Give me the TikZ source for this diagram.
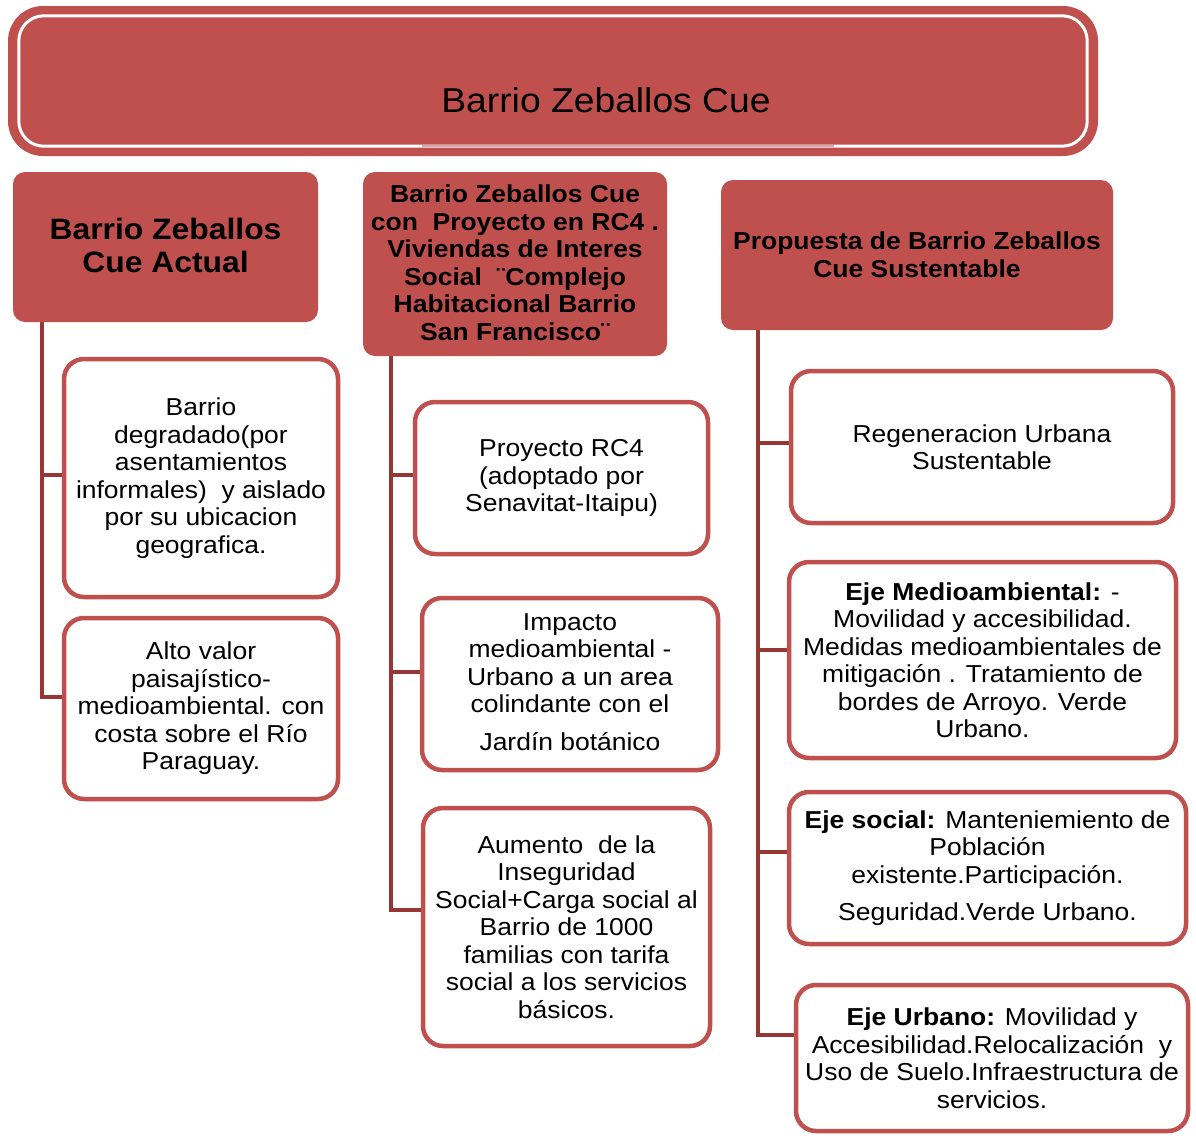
\documentclass[tikz,border=0pt]{standalone}
\usepackage{fontspec}
\setmainfont{Liberation Sans}[FakeStretch=1.08]
\usetikzlibrary{backgrounds}
\definecolor{hdr}{RGB}{192,80,77}
\definecolor{connc}{RGB}{150,55,53}
\definecolor{seam}{RGB}{210,170,170}
\begin{document}
\begin{tikzpicture}[x=1pt,y=-1pt,
  hdrbox/.style={fill=hdr, draw=none, rounded corners=12pt, align=center,
    font=\bfseries\fontsize{24.5}{27.5}\selectfont, inner sep=0pt},
  childbox/.style={draw=hdr, line width=4.5pt, fill=white, rounded corners=20pt,
    align=center, font=\fontsize{24.5}{27.5}\selectfont, inner sep=0pt},
  connline/.style={draw=connc, line width=4.5pt}]
\useasboundingbox (0,0) rectangle (1196,1135);

% banner
\node[fill=hdr, rounded corners=35pt, minimum width=1090pt, minimum height=150pt, inner sep=0pt] (banner) at (553,81) {};
\draw[white, line width=3pt, rounded corners=25pt]
  ([shift={(11,10)}]banner.north west) rectangle ([shift={(-11,-10)}]banner.south east);
\draw[seam, line width=2pt] ([shift={(414,-10)}]banner.south west) -- ([shift={(826,-10)}]banner.south west);
\node[font=\fontsize{34.5}{40}\selectfont, inner sep=0pt] (title) at (606,100) {Barrio Zeballos Cue};

% headers
\node[hdrbox, minimum width=305pt, minimum height=150pt] (h1) at (165.5,247) {};
\node[font=\bfseries\fontsize{29.5}{33}\selectfont, align=center, inner sep=0pt] (h1t) at (165.5,245.5) {Barrio Zeballos\\Cue Actual};
\node[hdrbox, minimum width=304pt, minimum height=184pt] (h2) at (515,264) {};
\node[font=\bfseries\fontsize{24.5}{27.5}\selectfont, align=center, inner sep=0pt] (h2t) at (515,262.5) {Barrio Zeballos Cue\\con\ \ Proyecto en RC4 .\\Viviendas de Interes\\Social\ \ ¨Complejo\\Habitacional Barrio\\San Francisco¨};
\node[hdrbox, minimum width=392pt, minimum height=150pt] (h3) at (917,255) {};
\node[font=\bfseries\fontsize{24.5}{27.5}\selectfont, align=center, inner sep=0pt] (h3t) at (917,254.5) {Propuesta de Barrio Zeballos\\Cue Sustentable};

% column 1
\node[childbox, minimum width=274pt, minimum height=238pt] (c1a) at (201,478) {};
\node[font=\fontsize{24.5}{27.5}\selectfont, align=center, inner sep=0pt] at (c1a) {Barrio\\degradado(por\\asentamientos\\informales)\ \ y aislado\\por su ubicacion\\geografica.};
\node[childbox, minimum width=274pt, minimum height=181pt] (c1b) at (201,708.5) {};
\node[font=\fontsize{24.5}{27.5}\selectfont, align=center, inner sep=0pt] at (c1b) {Alto valor\\paisajístico-\\medioambiental. con\\costa sobre el Río\\Paraguay.};

% column 2
\node[childbox, minimum width=293pt, minimum height=152pt] (c2a) at (561.5,478) {};
\node[font=\fontsize{24.5}{27.5}\selectfont, align=center, inner sep=0pt] at (c2a) {Proyecto RC4\\(adoptado por\\Senavitat-Itaipu)};
\node[childbox, minimum width=296pt, minimum height=172pt] (c2b) at (570,684) {};
\node[font=\fontsize{24.5}{27.5}\selectfont, align=center, inner sep=0pt] at ([yshift=2pt]c2b.center) {Impacto\\medioambiental -\\Urbano a un area\\colindante con el\\[10pt]Jardín botánico};
\node[childbox, minimum width=287pt, minimum height=238pt] (c2c) at (566.5,927) {};
\node[font=\fontsize{24.5}{27.5}\selectfont, align=center, inner sep=0pt] at (c2c) {Aumento\ \ de la\\Inseguridad\\Social+Carga social al\\Barrio de 1000\\familias con tarifa\\social a los servicios\\básicos.};

% column 3
\node[childbox, minimum width=382pt, minimum height=152pt] (c3a) at (982,447) {};
\node[font=\fontsize{24.5}{27.5}\selectfont, align=center, inner sep=0pt] at (c3a) {Regeneracion Urbana\\Sustentable};
\node[childbox, minimum width=387pt, minimum height=196pt] (c3b) at (982.5,660) {};
\node[font=\fontsize{24.5}{27.5}\selectfont, align=center, inner sep=0pt] at (c3b) {\textbf{Eje Medioambiental:} -\\Movilidad y accesibilidad.\\Medidas medioambientales de\\mitigación . Tratamiento de\\bordes de Arroyo. Verde\\Urbano.};
\node[childbox, minimum width=397pt, minimum height=152pt] (c3c) at (987.5,868) {};
\node[font=\fontsize{24.5}{27.5}\selectfont, align=center, inner sep=0pt] at (c3c) {\textbf{Eje social:} Manteniemiento de\\Población\\existente.Participación.\\[10pt]Seguridad.Verde Urbano.};
\node[childbox, minimum width=392pt, minimum height=146pt] (c3d) at (992,1058) {};
\node[font=\fontsize{24.5}{27.5}\selectfont, align=center, inner sep=0pt] at (c3d) {\textbf{Eje Urbano:} Movilidad y\\Accesibilidad.Relocalización\ \ y\\Uso de Suelo.Infraestructura de\\servicios.};

% connectors
\begin{scope}[on background layer]
\draw[connline] ([xshift=29pt]h1.south west) |- ([yshift=3pt]c1a.west);
\draw[connline] ([xshift=29pt]h1.south west) |- ([yshift=11.5pt]c1b.west);
\draw[connline] ([xshift=28pt]h2.south west) |- ([yshift=3pt]c2a.west);
\draw[connline] ([xshift=28pt]h2.south west) |- ([yshift=12pt]c2b.west);
\draw[connline] ([xshift=28pt]h2.south west) |- ([yshift=17pt]c2c.west);
\draw[connline] ([xshift=37pt]h3.south west) |- ([yshift=4pt]c3a.west);
\draw[connline] ([xshift=37pt]h3.south west) |- ([yshift=10pt]c3b.west);
\draw[connline] ([xshift=37pt]h3.south west) |- ([yshift=16pt]c3c.west);
\draw[connline] ([xshift=37pt]h3.south west) |- ([yshift=23pt]c3d.west);
\end{scope}
\end{tikzpicture}
\end{document}
